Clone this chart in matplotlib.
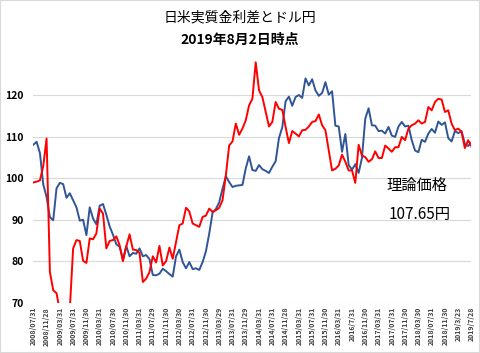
import matplotlib
matplotlib.use("Agg")
import matplotlib.pyplot as plt
from matplotlib.patches import Rectangle

plt.rcParams['font.family'] = ['Noto Sans CJK JP', 'DejaVu Sans']

tick_labels = ["2008/07/31", "2008/11/28", "2009/03/31", "2009/07/31", "2009/11/30",
               "2010/03/31", "2010/07/30", "2010/11/30", "2011/03/31", "2011/07/29",
               "2011/11/30", "2012/03/30", "2012/07/31", "2012/11/30", "2013/03/29",
               "2013/07/31", "2013/11/29", "2014/03/31", "2014/07/31", "2014/11/28",
               "2015/03/31", "2015/07/31", "2015/11/30", "2016/03/31", "2016/7/31",
               "2016/11/30", "2017/03/31", "2017/07/31", "2017/11/30", "2018/03/30",
               "2018/07/31", "2018/11/30", "2019/3/23", "2019/7/28"]

usdjpy = [108.1, 108.8, 106.1, 98.5, 95.5, 90.6, 89.9, 97.6, 98.9, 98.6,
          95.3, 96.4, 94.7, 93.0, 89.8, 90.0, 86.3, 93.0, 90.3, 88.9,
          93.4, 93.8, 91.2, 88.4, 86.4, 84.1, 83.5, 80.4, 83.7, 81.2,
          82.0, 81.8, 83.1, 81.2, 81.5, 80.5, 76.7, 76.6, 77.0, 78.2,
          77.6, 76.9, 76.3, 81.2, 82.8, 79.8, 78.3, 79.8, 78.1, 78.3,
          77.9, 79.8, 82.4, 86.7, 91.7, 92.6, 94.2, 97.5, 100.5, 99.1,
          97.9, 98.2, 98.3, 98.4, 102.4, 105.3, 102.0, 101.8, 103.2, 102.2,
          101.8, 101.3, 102.8, 104.1, 109.7, 112.3, 118.6, 119.7, 117.5, 119.6,
          120.1, 119.4, 124.1, 122.4, 123.9, 121.2, 119.9, 120.6, 123.2, 120.2,
          121.0, 112.7, 112.5, 106.4, 110.7, 103.2, 102.1, 103.4, 101.3, 104.9,
          114.4, 116.9, 112.8, 112.7, 111.4, 111.5, 110.8, 112.4, 110.3, 110.0,
          112.5, 113.6, 112.5, 112.7, 109.2, 106.7, 106.3, 109.3, 108.8, 110.8,
          111.9, 111.0, 113.7, 112.9, 113.5, 109.7, 108.9, 111.4, 110.9, 111.4,
          108.3, 107.8, 108.7]

theory = [99.0, 99.2, 99.5, 103.0, 109.6, 77.4, 73.0, 72.3, 68.0, 63.0,
          63.0, 68.5, 83.1, 85.1, 84.9, 80.1, 79.6, 85.5, 85.3, 86.7,
          92.7, 91.5, 83.1, 84.9, 85.1, 86.0, 83.9, 80.0, 83.5, 86.5,
          82.8, 82.7, 82.0, 75.0, 75.8, 77.4, 81.2, 79.7, 83.7, 79.0,
          80.0, 83.3, 80.6, 84.6, 88.7, 89.1, 92.9, 92.0, 89.1, 88.7,
          88.3, 90.7, 91.0, 92.7, 91.9, 92.3, 92.9, 94.7, 100.7, 107.9,
          108.9, 113.2, 110.5, 112.0, 114.0, 117.6, 119.2, 128.0, 121.2, 119.6,
          116.0, 112.5, 113.6, 118.4, 116.8, 116.5, 112.4, 108.5, 111.4, 110.8,
          110.1, 111.6, 111.7, 112.5, 113.6, 113.8, 115.4, 112.8, 111.6, 106.7,
          101.9, 102.3, 103.1, 105.7, 104.0, 101.9, 101.9, 98.9, 108.1, 105.5,
          105.1, 104.0, 104.6, 106.5, 104.9, 104.9, 107.9, 107.2, 106.4, 107.5,
          107.5, 110.0, 109.2, 112.0, 112.8, 113.2, 114.0, 113.2, 113.6, 117.2,
          116.4, 118.4, 119.2, 119.0, 116.0, 116.4, 113.2, 111.6, 112.0, 111.2,
          107.3, 109.2, 107.65]

yticks = [70, 80, 90, 100, 110, 120]

W, H = 480, 353
fig = plt.figure(figsize=(W / 100, H / 100), dpi=100)
left_px, right_px = 33.3, 471.5
bottom_px, top_px = 302.7, 58.1
ax = fig.add_axes([left_px / W, 1 - bottom_px / H,
                   (right_px - left_px) / W, (bottom_px - top_px) / H])

x = list(range(len(usdjpy)))
ax.plot(x, usdjpy, color='#2F5597', lw=1.4, solid_joinstyle='round')
ax.plot(x, theory, color='#FF0000', lw=1.4, solid_joinstyle='round')

ax.set_xlim(0, len(usdjpy) - 1)
ax.set_ylim(70, 129)
ax.set_yticks(yticks)
ax.set_yticklabels([str(v) for v in yticks], fontsize=7.5, fontweight='bold')
ax.set_xticks(list(range(0, len(usdjpy), 4)))
ax.set_xticklabels(tick_labels, rotation=90, fontsize=5, fontweight='bold', color='#404040')
ax.tick_params(axis='both', length=0)
ax.tick_params(axis='y', pad=7)
ax.tick_params(axis='x', pad=3)
ax.grid(axis='y', color='#d9d9d9', lw=0.8)
ax.set_axisbelow(True)
for s in ax.spines.values():
    s.set_visible(False)

fig.text(0.5, 1 - 17 / H, "日米実質金利差とドル円", ha='center', va='center', fontsize=10)
fig.text(0.5, 1 - 40 / H, "2019年8月2日時点", ha='center', va='center', fontsize=10, fontweight='bold')
fig.text(417 / W, 1 - 185 / H, "理論価格", ha='center', va='center', fontsize=11)
fig.text(420 / W, 1 - 215 / H, "107.65円", ha='center', va='center', fontsize=11)

fig.patches.append(Rectangle((0, 0), 1, 1, transform=fig.transFigure, fill=False,
                             edgecolor='#d9d9d9', lw=1.5))

fig.savefig("out.png", dpi=100)
